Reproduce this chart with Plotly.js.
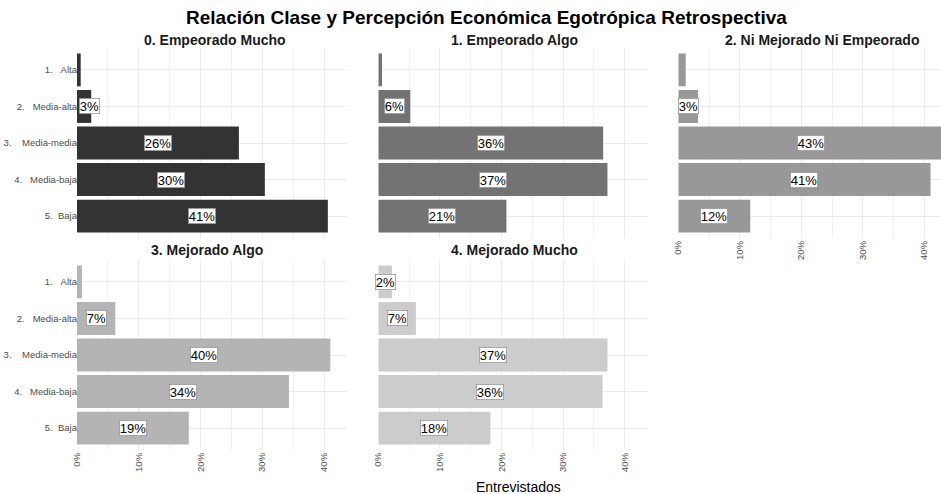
<!DOCTYPE html>
<html><head><meta charset="utf-8">
<script src="https://cdn.plot.ly/plotly-3.0.1.min.js"></script>
<style>html,body{margin:0;padding:0;background:#fff}</style>
</head><body><div id="chart" style="width:941px;height:494px"></div>
<script>
// ---- data ----
const categories = ["1.\u00A0\u00A0\u00A0Alta", "2.\u00A0\u00A0\u00A0Media-alta", "3.\u00A0\u00A0\u00A0\u00A0Media-media", "4.\u00A0\u00A0\u00A0Media-baja", "5.\u00A0\u00A0Baja"];
const panelTitles = ["0. Empeorado Mucho", "1. Empeorado Algo", "2. Ni Mejorado Ni Empeorado", "3. Mejorado Algo", "4. Mejorado Mucho"];
const empeoradoMucho = [0.6, 2.3, 26.2, 30.4, 40.6];
const empeoradoAlgo = [0.6, 5.2, 36.5, 37.2, 20.8];
const niMejoradoNiEmpeorado = [1.2, 3.2, 43.0, 41.0, 11.7];
const mejoradoAlgo = [0.8, 6.2, 41.0, 34.3, 18.1];
const mejoradoMucho = [2.2, 6.1, 37.2, 36.4, 18.2];
const labelsEmpeoradoMucho = ["", "3%", "26%", "30%", "41%"];
const labelsEmpeoradoAlgo = ["", "6%", "36%", "37%", "21%"];
const labelsNiMejoradoNiEmpeorado = ["", "3%", "43%", "41%", "12%"];
const labelsMejoradoAlgo = ["", "7%", "40%", "34%", "19%"];
const labelsMejoradoMucho = ["2%", "7%", "37%", "36%", "18%"];
const xTickVals = [0, 10, 20, 30, 40];
const xTickText = ["0%", "10%", "20%", "30%", "40%"];
const xAxisTitle = "Entrevistados";
const mainTitle = "Relación Clase y Percepción Económica Egotrópica Retrospectiva";

// ---- styling / layout ----
const series = [empeoradoMucho, empeoradoAlgo, niMejoradoNiEmpeorado, mejoradoAlgo, mejoradoMucho];
const labels = [labelsEmpeoradoMucho, labelsEmpeoradoAlgo, labelsNiMejoradoNiEmpeorado, labelsMejoradoAlgo, labelsMejoradoMucho];
const colors = ["#333333", "#737373", "#989898", "#B4B4B4", "#CCCCCC"];
const W = 941, H = 494;
const fx = p => p / W, fy = p => 1 - p / H;
const colDom = [[77, 347], [378.3, 647.5], [678.3, 941]];
const rowDom = [[48, 238], [260, 450]];
const xEnd = [43.7, 43.7, 42.7];
const pos = [[0, 0], [0, 1], [0, 2], [1, 0], [1, 1]]; // [row, col]
const showX = [false, false, true, true, true];
const showY = [true, false, false, true, false];
const titleCenters = [215, 514, 822, 207, 514];
const titleY = [40, 250];
const FONT = "Liberation Sans, Arial, sans-serif";
const LABEL_SIZE = 13;

const data = [];
const layout = {
  width: W, height: H,
  margin: {l: 0, r: 0, t: 0, b: 0},
  paper_bgcolor: "#ffffff", plot_bgcolor: "#ffffff",
  showlegend: false,
  font: {family: FONT, color: "#4D4D4D"},
  bargap: 0.1,
  annotations: []
};

series.forEach((vals, i) => {
  const n = i === 0 ? "" : String(i + 1);
  const [r, c] = pos[i];
  const pxPerUnit = (colDom[c][1] - colDom[c][0]) / xEnd[c];
  data.push({
    type: "bar", orientation: "h",
    x: vals, y: categories,
    xaxis: "x" + n, yaxis: "y" + n,
    marker: {color: colors[i], line: {width: 0}},
    width: 0.9, hoverinfo: "skip"
  });
  layout["xaxis" + n] = {
    domain: [fx(colDom[c][0]), fx(colDom[c][1])],
    anchor: "y" + n,
    range: [0, xEnd[c]],
    tickvals: xTickVals, ticktext: xTickText,
    showticklabels: showX[i], tickangle: -90,
    tickfont: {size: 9.5, color: "#4D4D4D", family: FONT},
    showgrid: true, gridcolor: "#EBEBEB", gridwidth: 1,
    minor: {dtick: 5, tick0: 0, showgrid: true, gridcolor: "#F0F0F0", gridwidth: 1},
    zeroline: false, showline: false, ticks: "", fixedrange: true
  };
  layout["yaxis" + n] = {
    domain: [fy(rowDom[r][1]), fy(rowDom[r][0])],
    anchor: "x" + n,
    type: "category", categoryorder: "array", categoryarray: categories,
    range: [4.6, -0.6],
    showticklabels: showY[i],
    tickfont: {size: 9.5, color: "#4D4D4D", family: FONT},
    ticklabelstandoff: -1,
    showgrid: true, gridcolor: "#EBEBEB", gridwidth: 1,
    zeroline: false, showline: false, ticks: "", fixedrange: true
  };
  vals.forEach((v, k) => {
    if (!labels[i][k]) return;
    const halfBox = labels[i][k].length * LABEL_SIZE * 0.3;
    const clamp = showY[i] && (v / 2) * pxPerUnit < halfBox;
    layout.annotations.push({
      xref: "x" + n, yref: "y" + n, x: clamp ? 0 : v / 2, y: categories[k],
      xanchor: clamp ? "left" : "center", xshift: clamp ? 2 : 0,
      text: labels[i][k], showarrow: false,
      bgcolor: "#ffffff", bordercolor: "#8C8C8C", borderwidth: 0.7, borderpad: 0,
      font: {size: LABEL_SIZE, color: "#000000", family: FONT}
    });
  });
  layout.annotations.push({
    xref: "paper", yref: "paper", x: fx(titleCenters[i]), y: fy(titleY[r]),
    xanchor: "center", yanchor: "middle", showarrow: false,
    text: "<b>" + panelTitles[i] + "</b>",
    font: {size: 14, color: "#1A1A1A", family: FONT}
  });
});

layout.annotations.push({
  xref: "paper", yref: "paper", x: fx(486.5), y: fy(17.5),
  xanchor: "center", yanchor: "middle", showarrow: false,
  text: "<b>" + mainTitle + "</b>",
  font: {size: 19, color: "#000000", family: FONT}
});
layout.annotations.push({
  xref: "paper", yref: "paper", x: fx(518), y: fy(487),
  xanchor: "center", yanchor: "middle", showarrow: false,
  text: xAxisTitle,
  font: {size: 14, color: "#000000", family: FONT}
});

Plotly.newPlot("chart", data, layout, {staticPlot: true, displayModeBar: false});
</script></body></html>
